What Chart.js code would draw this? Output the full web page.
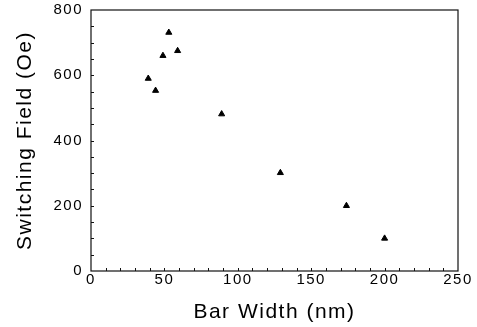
<!DOCTYPE html>
<html>
<head>
<meta charset="utf-8">
<script src="https://cdn.jsdelivr.net/npm/chart.js@4"></script>
<style>
  html, body { margin: 0; padding: 0; background: #fff; }
  #wrap { width: 477px; height: 327px; }
</style>
</head>
<body>
<div id="wrap"><canvas id="chart" width="477" height="327"></canvas></div>
<script>
// bar width (nm) vs switching field (Oe)
const barWidth = [39, 44, 49, 53, 59, 89, 129, 174, 200];
const switchingField = [590, 553, 660, 731, 675, 481, 301, 200, 100];
const xTicks = [0, 50, 100, 150, 200, 250];
const yTicks = [0, 200, 400, 600, 800];

const points = barWidth.map((x, i) => ({ x: x, y: switchingField[i] }));

// the old typeset figure has wide letter spacing
const spacing = {
  id: 'spacing',
  beforeLayout(chart) { chart.ctx.letterSpacing = '1.5px'; },
  beforeDraw(chart) { chart.ctx.letterSpacing = '1.5px'; }
};

// box around the plot area + small inward ticks
const frame = {
  id: 'frame',
  afterDraw(chart) {
    const a = chart.chartArea;
    const ctx = chart.ctx;
    const xs = chart.scales.x, ys = chart.scales.y;
    ctx.save();
    ctx.strokeStyle = '#111';
    ctx.lineWidth = 1.2;
    ctx.strokeRect(a.left, a.top, a.right - a.left, a.bottom - a.top);
    ctx.lineWidth = 1;
    ctx.beginPath();
    for (let v = 50; v < 800; v += 50) {
      const y = Math.round(ys.getPixelForValue(v)) + 0.5;
      ctx.moveTo(a.left, y);
      ctx.lineTo(a.left + 3, y);
    }
    for (let v = 10; v < 250; v += 10) {
      const x = Math.round(xs.getPixelForValue(v)) + 0.5;
      ctx.moveTo(x, a.bottom);
      ctx.lineTo(x, a.bottom - 3);
    }
    ctx.stroke();
    ctx.restore();
  }
};

const font = "'Liberation Sans', Arial, sans-serif";

new Chart(document.getElementById('chart'), {
  type: 'scatter',
  data: {
    datasets: [{
      data: points,
      pointStyle: 'triangle',
      pointRadius: 3.5,
      backgroundColor: '#000',
      borderColor: '#000',
      borderWidth: 1
    }]
  },
  options: {
    responsive: false,
    animation: false,
    layout: { padding: { top: 10, right: 19, bottom: 0, left: 13 } },
    plugins: { legend: { display: false }, tooltip: { enabled: false } },
    scales: {
      x: {
        type: 'linear',
        min: 0,
        max: 250,
        afterBuildTicks: s => { s.ticks = xTicks.map(v => ({ value: v })); },
        afterFit: s => { s.height = 56; },
        grid: { display: false, drawTicks: false, tickLength: 0 },
        border: { display: false },
        ticks: { color: '#000', font: { family: font, size: 15 }, padding: 0 },
        title: { display: true, text: 'Bar Width (nm)', color: '#000', font: { family: font, size: 21 }, padding: { top: 0, bottom: 2 } }
      },
      y: {
        type: 'linear',
        min: 0,
        max: 800,
        afterBuildTicks: s => { s.ticks = yTicks.map(v => ({ value: v })); },
        afterFit: s => { s.width = 78; s.paddingTop = 0; s.paddingBottom = 0; },
        grid: { display: false, drawTicks: false, tickLength: 0 },
        border: { display: false },
        ticks: { color: '#000', font: { family: font, size: 15 }, padding: 8 },
        title: { display: true, text: 'Switching Field (Oe)', color: '#000', font: { family: font, size: 21 }, padding: 0 }
      }
    }
  },
  plugins: [spacing, frame]
});
</script>
</body>
</html>
